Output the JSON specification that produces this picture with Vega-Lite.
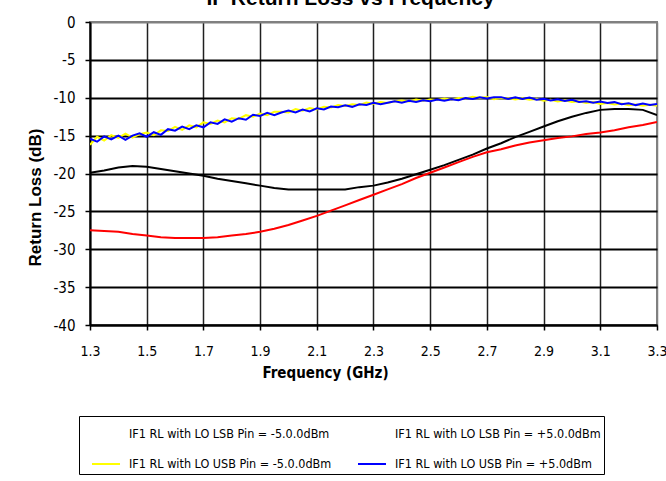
{
  "$schema": "https://vega.github.io/schema/vega-lite/v6.json",
  "width": 567,
  "height": 303,
  "autosize": {"type": "none"},
  "padding": {"left": 90, "top": 22, "right": 9, "bottom": 156},
  "background": "white",
  "title": {
    "text": "IF Return Loss vs Frequency",
    "font": "Liberation Sans",
    "fontSize": 21,
    "fontWeight": "bold",
    "color": "black",
    "anchor": "middle",
    "dx": -23,
    "dy": 11,
    "offset": 0,
    "baseline": "alphabetic"
  },
  "data": {
    "values": [
      {"s": "LSB -5", "f": 1.30, "rl": -19.9}, {"s": "LSB -5", "f": 1.35, "rl": -19.6}, {"s": "LSB -5", "f": 1.40, "rl": -19.2}, {"s": "LSB -5", "f": 1.45, "rl": -19.0}, {"s": "LSB -5", "f": 1.50, "rl": -19.1}, {"s": "LSB -5", "f": 1.55, "rl": -19.4}, {"s": "LSB -5", "f": 1.60, "rl": -19.7}, {"s": "LSB -5", "f": 1.65, "rl": -20.0}, {"s": "LSB -5", "f": 1.70, "rl": -20.3}, {"s": "LSB -5", "f": 1.75, "rl": -20.7}, {"s": "LSB -5", "f": 1.80, "rl": -21.0}, {"s": "LSB -5", "f": 1.85, "rl": -21.3}, {"s": "LSB -5", "f": 1.90, "rl": -21.6}, {"s": "LSB -5", "f": 1.95, "rl": -21.9}, {"s": "LSB -5", "f": 2.00, "rl": -22.1}, {"s": "LSB -5", "f": 2.05, "rl": -22.1}, {"s": "LSB -5", "f": 2.10, "rl": -22.1}, {"s": "LSB -5", "f": 2.15, "rl": -22.1}, {"s": "LSB -5", "f": 2.20, "rl": -22.1}, {"s": "LSB -5", "f": 2.25, "rl": -21.8}, {"s": "LSB -5", "f": 2.30, "rl": -21.6}, {"s": "LSB -5", "f": 2.35, "rl": -21.2}, {"s": "LSB -5", "f": 2.40, "rl": -20.7}, {"s": "LSB -5", "f": 2.45, "rl": -20.1}, {"s": "LSB -5", "f": 2.50, "rl": -19.5}, {"s": "LSB -5", "f": 2.55, "rl": -18.9}, {"s": "LSB -5", "f": 2.60, "rl": -18.2}, {"s": "LSB -5", "f": 2.65, "rl": -17.5}, {"s": "LSB -5", "f": 2.70, "rl": -16.7}, {"s": "LSB -5", "f": 2.75, "rl": -16.0}, {"s": "LSB -5", "f": 2.80, "rl": -15.2}, {"s": "LSB -5", "f": 2.85, "rl": -14.5}, {"s": "LSB -5", "f": 2.90, "rl": -13.8}, {"s": "LSB -5", "f": 2.95, "rl": -13.1}, {"s": "LSB -5", "f": 3.00, "rl": -12.5}, {"s": "LSB -5", "f": 3.05, "rl": -12.0}, {"s": "LSB -5", "f": 3.10, "rl": -11.6}, {"s": "LSB -5", "f": 3.15, "rl": -11.5}, {"s": "LSB -5", "f": 3.20, "rl": -11.5}, {"s": "LSB -5", "f": 3.25, "rl": -11.6}, {"s": "LSB -5", "f": 3.30, "rl": -12.3},

      {"s": "LSB +5", "f": 1.30, "rl": -27.5}, {"s": "LSB +5", "f": 1.35, "rl": -27.6}, {"s": "LSB +5", "f": 1.40, "rl": -27.7}, {"s": "LSB +5", "f": 1.45, "rl": -28.0}, {"s": "LSB +5", "f": 1.50, "rl": -28.2}, {"s": "LSB +5", "f": 1.55, "rl": -28.4}, {"s": "LSB +5", "f": 1.60, "rl": -28.5}, {"s": "LSB +5", "f": 1.65, "rl": -28.5}, {"s": "LSB +5", "f": 1.70, "rl": -28.5}, {"s": "LSB +5", "f": 1.75, "rl": -28.4}, {"s": "LSB +5", "f": 1.80, "rl": -28.2}, {"s": "LSB +5", "f": 1.85, "rl": -28.0}, {"s": "LSB +5", "f": 1.90, "rl": -27.7}, {"s": "LSB +5", "f": 1.95, "rl": -27.3}, {"s": "LSB +5", "f": 2.00, "rl": -26.8}, {"s": "LSB +5", "f": 2.05, "rl": -26.2}, {"s": "LSB +5", "f": 2.10, "rl": -25.6}, {"s": "LSB +5", "f": 2.15, "rl": -24.9}, {"s": "LSB +5", "f": 2.20, "rl": -24.2}, {"s": "LSB +5", "f": 2.25, "rl": -23.5}, {"s": "LSB +5", "f": 2.30, "rl": -22.8}, {"s": "LSB +5", "f": 2.35, "rl": -22.1}, {"s": "LSB +5", "f": 2.40, "rl": -21.4}, {"s": "LSB +5", "f": 2.45, "rl": -20.6}, {"s": "LSB +5", "f": 2.50, "rl": -19.9}, {"s": "LSB +5", "f": 2.55, "rl": -19.2}, {"s": "LSB +5", "f": 2.60, "rl": -18.5}, {"s": "LSB +5", "f": 2.65, "rl": -17.8}, {"s": "LSB +5", "f": 2.70, "rl": -17.2}, {"s": "LSB +5", "f": 2.75, "rl": -16.8}, {"s": "LSB +5", "f": 2.80, "rl": -16.3}, {"s": "LSB +5", "f": 2.85, "rl": -15.9}, {"s": "LSB +5", "f": 2.90, "rl": -15.6}, {"s": "LSB +5", "f": 2.95, "rl": -15.3}, {"s": "LSB +5", "f": 3.00, "rl": -15.1}, {"s": "LSB +5", "f": 3.05, "rl": -14.8}, {"s": "LSB +5", "f": 3.10, "rl": -14.6}, {"s": "LSB +5", "f": 3.15, "rl": -14.3}, {"s": "LSB +5", "f": 3.20, "rl": -13.9}, {"s": "LSB +5", "f": 3.25, "rl": -13.6}, {"s": "LSB +5", "f": 3.30, "rl": -13.2},

      {"s": "USB -5", "f": 1.300, "rl": -16.2}, {"s": "USB -5", "f": 1.325, "rl": -15.15}, {"s": "USB -5", "f": 1.350, "rl": -15.65}, {"s": "USB -5", "f": 1.375, "rl": -14.95}, {"s": "USB -5", "f": 1.400, "rl": -15.3}, {"s": "USB -5", "f": 1.425, "rl": -14.75}, {"s": "USB -5", "f": 1.450, "rl": -15.25}, {"s": "USB -5", "f": 1.475, "rl": -14.8}, {"s": "USB -5", "f": 1.500, "rl": -14.6}, {"s": "USB -5", "f": 1.525, "rl": -14.95}, {"s": "USB -5", "f": 1.550, "rl": -14.3}, {"s": "USB -5", "f": 1.575, "rl": -14.4}, {"s": "USB -5", "f": 1.600, "rl": -13.85}, {"s": "USB -5", "f": 1.625, "rl": -14.25}, {"s": "USB -5", "f": 1.650, "rl": -13.65}, {"s": "USB -5", "f": 1.675, "rl": -13.9}, {"s": "USB -5", "f": 1.700, "rl": -13.25}, {"s": "USB -5", "f": 1.725, "rl": -13.45}, {"s": "USB -5", "f": 1.750, "rl": -13.0}, {"s": "USB -5", "f": 1.775, "rl": -13.25}, {"s": "USB -5", "f": 1.800, "rl": -12.7}, {"s": "USB -5", "f": 1.825, "rl": -12.8}, {"s": "USB -5", "f": 1.850, "rl": -12.3}, {"s": "USB -5", "f": 1.875, "rl": -12.5}, {"s": "USB -5", "f": 1.900, "rl": -12.1}, {"s": "USB -5", "f": 1.925, "rl": -12.3}, {"s": "USB -5", "f": 1.950, "rl": -11.85}, {"s": "USB -5", "f": 1.975, "rl": -11.85}, {"s": "USB -5", "f": 2.000, "rl": -11.95}, {"s": "USB -5", "f": 2.025, "rl": -11.5}, {"s": "USB -5", "f": 2.050, "rl": -11.7}, {"s": "USB -5", "f": 2.075, "rl": -11.35}, {"s": "USB -5", "f": 2.100, "rl": -11.55}, {"s": "USB -5", "f": 2.125, "rl": -11.2}, {"s": "USB -5", "f": 2.150, "rl": -11.3}, {"s": "USB -5", "f": 2.175, "rl": -10.95}, {"s": "USB -5", "f": 2.200, "rl": -11.1}, {"s": "USB -5", "f": 2.225, "rl": -10.85}, {"s": "USB -5", "f": 2.250, "rl": -10.97}, {"s": "USB -5", "f": 2.275, "rl": -10.63}, {"s": "USB -5", "f": 2.300, "rl": -10.78}, {"s": "USB -5", "f": 2.325, "rl": -10.55}, {"s": "USB -5", "f": 2.350, "rl": -10.7}, {"s": "USB -5", "f": 2.375, "rl": -10.45}, {"s": "USB -5", "f": 2.400, "rl": -10.35}, {"s": "USB -5", "f": 2.425, "rl": -10.48}, {"s": "USB -5", "f": 2.450, "rl": -10.23}, {"s": "USB -5", "f": 2.475, "rl": -10.4}, {"s": "USB -5", "f": 2.500, "rl": -10.22}, {"s": "USB -5", "f": 2.525, "rl": -10.3}, {"s": "USB -5", "f": 2.550, "rl": -10.1}, {"s": "USB -5", "f": 2.575, "rl": -10.25}, {"s": "USB -5", "f": 2.600, "rl": -10.02}, {"s": "USB -5", "f": 2.625, "rl": -10.1}, {"s": "USB -5", "f": 2.650, "rl": -9.88}, {"s": "USB -5", "f": 2.675, "rl": -10.03}, {"s": "USB -5", "f": 2.700, "rl": -9.9}, {"s": "USB -5", "f": 2.725, "rl": -10.2}, {"s": "USB -5", "f": 2.750, "rl": -10.05}, {"s": "USB -5", "f": 2.775, "rl": -10.05}, {"s": "USB -5", "f": 2.800, "rl": -10.23}, {"s": "USB -5", "f": 2.825, "rl": -10.08}, {"s": "USB -5", "f": 2.850, "rl": -10.25}, {"s": "USB -5", "f": 2.875, "rl": -10.15}, {"s": "USB -5", "f": 2.900, "rl": -10.4}, {"s": "USB -5", "f": 2.925, "rl": -10.27}, {"s": "USB -5", "f": 2.950, "rl": -10.5}, {"s": "USB -5", "f": 2.975, "rl": -10.33}, {"s": "USB -5", "f": 3.000, "rl": -10.55}, {"s": "USB -5", "f": 3.025, "rl": -10.45}, {"s": "USB -5", "f": 3.050, "rl": -10.7}, {"s": "USB -5", "f": 3.075, "rl": -10.57}, {"s": "USB -5", "f": 3.100, "rl": -10.82}, {"s": "USB -5", "f": 3.125, "rl": -10.7}, {"s": "USB -5", "f": 3.150, "rl": -10.88}, {"s": "USB -5", "f": 3.175, "rl": -10.75}, {"s": "USB -5", "f": 3.200, "rl": -11.0}, {"s": "USB -5", "f": 3.225, "rl": -10.9}, {"s": "USB -5", "f": 3.250, "rl": -11.05}, {"s": "USB -5", "f": 3.275, "rl": -10.92}, {"s": "USB -5", "f": 3.300, "rl": -11.05},

      {"s": "USB +5", "f": 1.300, "rl": -15.4}, {"s": "USB +5", "f": 1.325, "rl": -15.8}, {"s": "USB +5", "f": 1.350, "rl": -15.1}, {"s": "USB +5", "f": 1.375, "rl": -15.5}, {"s": "USB +5", "f": 1.400, "rl": -15.0}, {"s": "USB +5", "f": 1.425, "rl": -15.55}, {"s": "USB +5", "f": 1.450, "rl": -15.0}, {"s": "USB +5", "f": 1.475, "rl": -14.7}, {"s": "USB +5", "f": 1.500, "rl": -15.15}, {"s": "USB +5", "f": 1.525, "rl": -14.55}, {"s": "USB +5", "f": 1.550, "rl": -14.9}, {"s": "USB +5", "f": 1.575, "rl": -14.15}, {"s": "USB +5", "f": 1.600, "rl": -14.35}, {"s": "USB +5", "f": 1.625, "rl": -13.8}, {"s": "USB +5", "f": 1.650, "rl": -14.15}, {"s": "USB +5", "f": 1.675, "rl": -13.65}, {"s": "USB +5", "f": 1.700, "rl": -13.9}, {"s": "USB +5", "f": 1.725, "rl": -13.25}, {"s": "USB +5", "f": 1.750, "rl": -13.45}, {"s": "USB +5", "f": 1.775, "rl": -12.85}, {"s": "USB +5", "f": 1.800, "rl": -13.15}, {"s": "USB +5", "f": 1.825, "rl": -12.7}, {"s": "USB +5", "f": 1.850, "rl": -12.9}, {"s": "USB +5", "f": 1.875, "rl": -12.25}, {"s": "USB +5", "f": 1.900, "rl": -12.4}, {"s": "USB +5", "f": 1.925, "rl": -12.0}, {"s": "USB +5", "f": 1.950, "rl": -12.3}, {"s": "USB +5", "f": 1.975, "rl": -11.95}, {"s": "USB +5", "f": 2.000, "rl": -11.7}, {"s": "USB +5", "f": 2.025, "rl": -11.95}, {"s": "USB +5", "f": 2.050, "rl": -11.55}, {"s": "USB +5", "f": 2.075, "rl": -11.8}, {"s": "USB +5", "f": 2.100, "rl": -11.4}, {"s": "USB +5", "f": 2.125, "rl": -11.55}, {"s": "USB +5", "f": 2.150, "rl": -11.15}, {"s": "USB +5", "f": 2.175, "rl": -11.25}, {"s": "USB +5", "f": 2.200, "rl": -11.0}, {"s": "USB +5", "f": 2.225, "rl": -11.2}, {"s": "USB +5", "f": 2.250, "rl": -10.85}, {"s": "USB +5", "f": 2.275, "rl": -10.95}, {"s": "USB +5", "f": 2.300, "rl": -10.65}, {"s": "USB +5", "f": 2.325, "rl": -10.85}, {"s": "USB +5", "f": 2.350, "rl": -10.65}, {"s": "USB +5", "f": 2.375, "rl": -10.48}, {"s": "USB +5", "f": 2.400, "rl": -10.65}, {"s": "USB +5", "f": 2.425, "rl": -10.4}, {"s": "USB +5", "f": 2.450, "rl": -10.57}, {"s": "USB +5", "f": 2.475, "rl": -10.32}, {"s": "USB +5", "f": 2.500, "rl": -10.45}, {"s": "USB +5", "f": 2.525, "rl": -10.23}, {"s": "USB +5", "f": 2.550, "rl": -10.4}, {"s": "USB +5", "f": 2.575, "rl": -10.2}, {"s": "USB +5", "f": 2.600, "rl": -10.32}, {"s": "USB +5", "f": 2.625, "rl": -10.05}, {"s": "USB +5", "f": 2.650, "rl": -10.15}, {"s": "USB +5", "f": 2.675, "rl": -9.95}, {"s": "USB +5", "f": 2.700, "rl": -10.1}, {"s": "USB +5", "f": 2.725, "rl": -9.95}, {"s": "USB +5", "f": 2.750, "rl": -9.92}, {"s": "USB +5", "f": 2.775, "rl": -10.15}, {"s": "USB +5", "f": 2.800, "rl": -9.95}, {"s": "USB +5", "f": 2.825, "rl": -10.15}, {"s": "USB +5", "f": 2.850, "rl": -9.98}, {"s": "USB +5", "f": 2.875, "rl": -10.25}, {"s": "USB +5", "f": 2.900, "rl": -10.15}, {"s": "USB +5", "f": 2.925, "rl": -10.37}, {"s": "USB +5", "f": 2.950, "rl": -10.2}, {"s": "USB +5", "f": 2.975, "rl": -10.43}, {"s": "USB +5", "f": 3.000, "rl": -10.28}, {"s": "USB +5", "f": 3.025, "rl": -10.55}, {"s": "USB +5", "f": 3.050, "rl": -10.45}, {"s": "USB +5", "f": 3.075, "rl": -10.67}, {"s": "USB +5", "f": 3.100, "rl": -10.5}, {"s": "USB +5", "f": 3.125, "rl": -10.7}, {"s": "USB +5", "f": 3.150, "rl": -10.58}, {"s": "USB +5", "f": 3.175, "rl": -10.85}, {"s": "USB +5", "f": 3.200, "rl": -10.72}, {"s": "USB +5", "f": 3.225, "rl": -10.97}, {"s": "USB +5", "f": 3.250, "rl": -10.75}, {"s": "USB +5", "f": 3.275, "rl": -10.95}, {"s": "USB +5", "f": 3.300, "rl": -10.82}
    ]
  },
  "mark": {"type": "line", "strokeWidth": 2, "clip": true},
  "encoding": {
    "x": {
      "field": "f",
      "type": "quantitative",
      "scale": {"domain": [1.3, 3.3], "nice": false, "zero": false},
      "axis": {
        "title": "Frequency (GHz)",
        "values": [1.3, 1.5, 1.7, 1.9, 2.1, 2.3, 2.5, 2.7, 2.9, 3.1, 3.3],
        "format": ".1f",
        "labelFlush": false,
        "labelOverlap": false,
        "labelFont": "DejaVu Sans Condensed, sans-serif",
        "labelFontSize": 14,
        "labelColor": "black",
        "labelPadding": 14,
        "tickSize": 5,
        "tickColor": "black",
        "tickWidth": 1.5,
        "domainColor": "black",
        "domainWidth": 2,
        "grid": true,
        "gridColor": {"condition": {"test": "datum.value >= 3.29", "value": "#808080"}, "value": "#202020"},
        "gridWidth": 1.5,
        "gridOpacity": 1,
        "titleFont": "DejaVu Sans Condensed, sans-serif",
        "titleFontSize": 15,
        "titleFontWeight": "bold",
        "titleColor": "black",
        "titleX": 235,
        "titleY": 47,
        "titleBaseline": "middle"
      }
    },
    "y": {
      "field": "rl",
      "type": "quantitative",
      "scale": {"domain": [-40, 0], "nice": false, "zero": false},
      "axis": {
        "title": "Return Loss (dB)",
        "values": [0, -5, -10, -15, -20, -25, -30, -35, -40],
        "labelExpr": "datum.value == 0 ? '0' : '-' + abs(datum.value)",
        "labelFont": "DejaVu Sans Condensed, sans-serif",
        "labelFontSize": 15,
        "labelColor": "black",
        "labelPadding": 10,
        "tickSize": 5,
        "tickColor": "black",
        "tickWidth": 1.5,
        "domainColor": "black",
        "domainWidth": 2,
        "grid": true,
        "gridColor": {"condition": {"test": "datum.value >= 0", "value": "#808080"}, "value": "black"},
        "gridWidth": 2,
        "gridOpacity": 1,
        "titleFont": "Liberation Sans, Arial, sans-serif",
        "titleFontSize": 17,
        "titleFontWeight": "bold",
        "titleColor": "black",
        "titleX": -55,
        "titleY": 175,
        "titleBaseline": "middle"
      }
    },
    "color": {
      "field": "s",
      "type": "nominal",
      "sort": ["LSB -5", "LSB +5", "USB -5", "USB +5"],
      "scale": {
        "domain": ["LSB -5", "LSB +5", "USB -5", "USB +5"],
        "range": ["#000000", "#ff0000", "#ffff00", "#0000ff"]
      },
      "legend": {
        "title": null,
        "orient": "none",
        "legendX": -11,
        "legendY": 394,
        "direction": "horizontal",
        "columns": 2,
        "strokeColor": "black",
        "fillColor": "white",
        "padding": 3,
        "symbolType": "stroke",
        "symbolSize": 784,
        "symbolStrokeWidth": 2,
        "symbolOffset": 9,
        "labelOffset": 8,
        "columnPadding": 16,
        "rowPadding": 8,
        "labelFont": "DejaVu Sans Condensed, sans-serif",
        "labelFontSize": 12.5,
        "labelColor": "black",
        "labelLimit": 400,
        "labelExpr": "datum.value == 'LSB -5' ? 'IF1 RL with LO LSB Pin = -5.0.0dBm' : datum.value == 'LSB +5' ? 'IF1 RL with LO LSB Pin = +5.0.0dBm' : datum.value == 'USB -5' ? 'IF1 RL with LO USB Pin = -5.0.0dBm' : 'IF1 RL with LO USB Pin = +5.0dBm'",
        "encode": {
          "symbols": {
            "update": {
              "strokeOpacity": {"signal": "indexof(datum.value, 'LSB') >= 0 ? 0 : 1"}
            }
          }
        }
      }
    }
  },
  "config": {
    "view": {"stroke": "#808080", "strokeWidth": 2}
  }
}
